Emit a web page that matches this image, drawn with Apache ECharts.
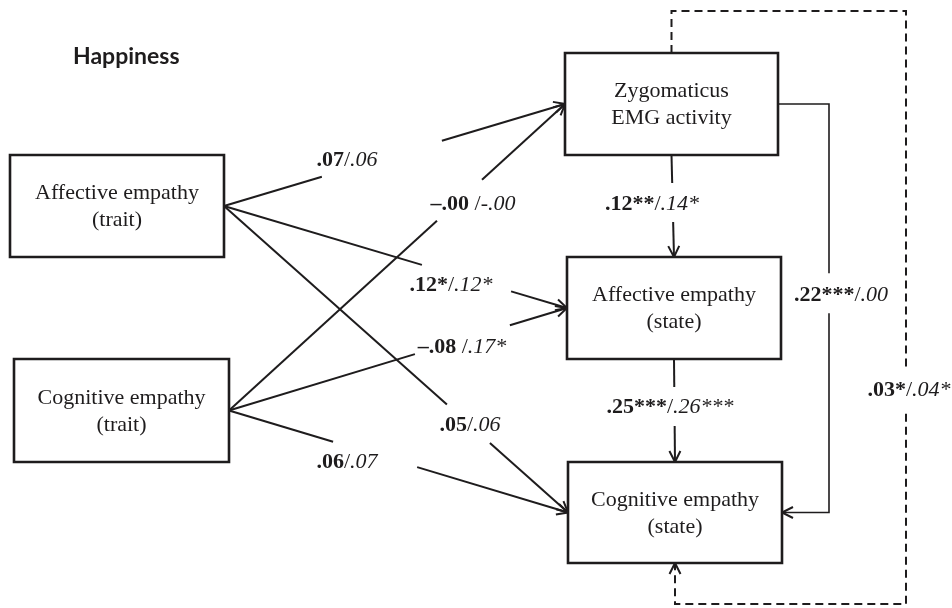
<!DOCTYPE html>
<html><head><meta charset="utf-8">
<script src="https://cdn.jsdelivr.net/npm/echarts@6/dist/echarts.min.js"></script>
<style>html,body{margin:0;padding:0;background:#fff}#c{width:952px;height:608px}</style>
</head><body><div id="c"></div>
<script>
// ---- content ----
const chartTitle = 'Happiness';
const nodeNames = ['Affective empathy\n(trait)', 'Cognitive empathy\n(trait)', 'Zygomaticus\nEMG activity', 'Affective empathy\n(state)', 'Cognitive empathy\n(state)'];
const pathFrom = [0, 0, 0, 1, 1, 1, 2, 3, 2, 2];
const pathTo   = [2, 3, 4, 2, 3, 4, 3, 4, 4, 4];
const coefBold   = ['.07', '.12*', '.05', '\u2013.00 ', '\u2013.08 ', '.06', '.12**', '.25***', '.22***', '.03*'];
const coefItalic = ['.06', '.12*', '.06', '-.00', '.17*', '.07', '.14*', '.26***', '.00', '.04*'];
const pathKind = ['h', 'h', 'h', 'h', 'h', 'h', 'v', 'v', 'elbow', 'loop'];

// ---- layout (diagram units, mapped through hidden value axes) ----
const boxes = [[10,155,224,257],[14,359,229,462],[565,53,778,155],[567,257,781,359],[568,462,782,563]];
const labelXY = [[347,160],[451,285],[470,425],[473,204],[462,347],[347,462],[652,204],[670,407],[841,295],[909,390]];
const gapT = [[0.287,0.639],[0.577,0.837],[0.648,0.773],[0.619,0.753],[0.55,0.831],[0.307,0.555],[0.275,0.657],[0.272,0.65],[0.435,0.514],[0.557,0.595]];
const elbowX = 829, loopTop = 11, loopRight = 906, loopBottom = 604;

const INK = '#1e1c1d';
const SERIF = '"Liberation Serif","Times New Roman",serif';

function cx(b){return (b[0]+b[2])/2;}
function cy(b){return (b[1]+b[3])/2;}
function buildPath(i){
  const a = boxes[pathFrom[i]], b = boxes[pathTo[i]];
  const k = pathKind[i];
  if (k === 'h') return [[a[2], cy(a)], [b[0], cy(b)]];
  if (k === 'v') return [[cx(a), a[3]], [cx(b), b[1]]];
  if (k === 'elbow') return [[a[2], cy(a)], [elbowX, cy(a)], [elbowX, cy(b)], [b[2], cy(b)]];
  return [[cx(a), a[1]], [cx(a), loopTop], [loopRight, loopTop], [loopRight, loopBottom], [cx(b), loopBottom], [cx(b), b[3]]];
}
function splitPath(pts, t0, t1){
  const lens = []; let total = 0;
  for (let j=1;j<pts.length;j++){const d=Math.hypot(pts[j][0]-pts[j-1][0],pts[j][1]-pts[j-1][1]);lens.push(d);total+=d;}
  function pointAt(dist){
    let acc=0;
    for(let j=0;j<lens.length;j++){
      if(acc+lens[j]>=dist){const f=(dist-acc)/lens[j];return {p:[pts[j][0]+(pts[j+1][0]-pts[j][0])*f, pts[j][1]+(pts[j+1][1]-pts[j][1])*f], seg:j};}
      acc+=lens[j];
    }
    return {p:pts[pts.length-1], seg:lens.length-1};
  }
  const A = pointAt(t0*total), B = pointAt(t1*total);
  const first = pts.slice(0, A.seg+1).concat([A.p]);
  const second = [B.p].concat(pts.slice(B.seg+1));
  return [first, second];
}

const chart = echarts.init(document.getElementById('c'), null, {renderer:'canvas'});

const nodeSeries = {
  type: 'custom', coordinateSystem: 'cartesian2d', clip: false, silent: true, z: 3,
  data: nodeNames.map((n,i)=>({name:n, value:[cx(boxes[i]), cy(boxes[i])]})),
  renderItem: function(params, api){
    const i = params.dataIndex, b = boxes[i];
    const p0 = api.coord([b[0], b[1]]), p1 = api.coord([b[2], b[3]]);
    const c = api.coord([cx(b), cy(b)]);
    return {type:'group', children:[
      {type:'rect', shape:{x:p0[0], y:p0[1], width:p1[0]-p0[0], height:p1[1]-p0[1]}, style:{fill:'#fff', stroke:INK, lineWidth:2.6}},
      {type:'text', style:{text:nodeNames[i], x:c[0], y:c[1]+1, align:'center', verticalAlign:'middle', font:'22px '+SERIF, lineHeight:27, fill:INK}}
    ]};
  }
};

const pathSeries = {
  type: 'custom', coordinateSystem: 'cartesian2d', clip: false, silent: true, z: 2,
  data: pathFrom.map((f,i)=>({value:labelXY[i]})),
  renderItem: function(params, api){
    const i = params.dataIndex;
    const raw = buildPath(i).map(p=>api.coord(p));
    const parts = splitPath(raw, gapT[i][0], gapT[i][1]);
    const dashed = pathKind[i]==='loop';
    const lw = pathKind[i]==='elbow' ? 1.6 : 2;
    const st = {stroke:INK, lineWidth:lw, fill:null, lineDash: dashed ? [8,5] : null};
    const children = parts.map(pp=>({type:'polyline', shape:{points:pp}, style:Object.assign({}, st)}));
    // open arrowhead at end
    const n = raw.length, e = raw[n-1], s = raw[n-2];
    const ang = Math.atan2(e[1]-s[1], e[0]-s[0]);
    const L = 11, W = 5.5;
    const ux = Math.cos(ang), uy = Math.sin(ang);
    const bx = e[0]-ux*L, by = e[1]-uy*L;
    children.push({type:'polyline', shape:{points:[[bx-uy*W, by+ux*W], e, [bx+uy*W, by-ux*W]]}, style:{stroke:INK, lineWidth:2, fill:null}});
    const lp = api.coord(labelXY[i]);
    children.push({type:'text', style:{
      text:'{b|'+coefBold[i]+'}{r|/}{i|'+coefItalic[i]+'}', x:lp[0], y:lp[1], align:'center', verticalAlign:'middle',
      rich:{
        b:{fontFamily:SERIF, fontWeight:'bold', fontSize:22, fill:INK},
        r:{fontFamily:SERIF, fontSize:22, fill:INK},
        i:{fontFamily:SERIF, fontStyle:'italic', fontSize:22, fill:INK}
      }}});
    return {type:'group', children:children};
  }
};

chart.setOption({
  animation: false,
  backgroundColor: '#fff',
  title: {text: chartTitle, left: 73, top: 45, padding: 0,
    textStyle: {fontFamily: 'Lato', fontWeight: 'bold', fontSize: 23, lineHeight: 23, color: INK}},
  grid: {left: 0, right: 0, top: 0, bottom: 0},
  xAxis: {type: 'value', min: 0, max: 952, show: false},
  yAxis: {type: 'value', min: 0, max: 608, inverse: true, show: false},
  series: [pathSeries, nodeSeries]
});
</script></body></html>
